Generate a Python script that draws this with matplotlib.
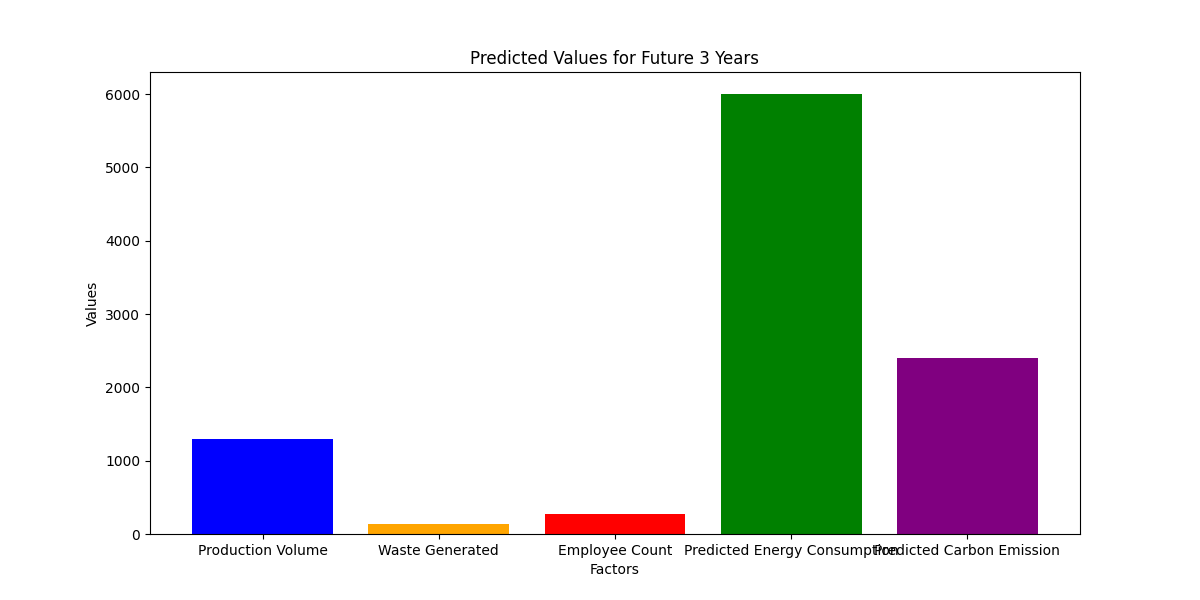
import matplotlib
matplotlib.use('Agg')
import matplotlib.pyplot as plt

factors = ['Production Volume', 'Waste Generated', 'Employee Count',
           'Predicted Energy Consumption', 'Predicted Carbon Emission']
values = [1300, 140, 270, 6000, 2400]
colors = ['blue', 'orange', 'red', 'green', 'purple']

fig, ax = plt.subplots(figsize=(12, 6), dpi=100)
ax.bar(factors, values, color=colors)
ax.set_title('Predicted Values for Future 3 Years')
ax.set_xlabel('Factors')
ax.set_ylabel('Values')
plt.savefig('out.png')
